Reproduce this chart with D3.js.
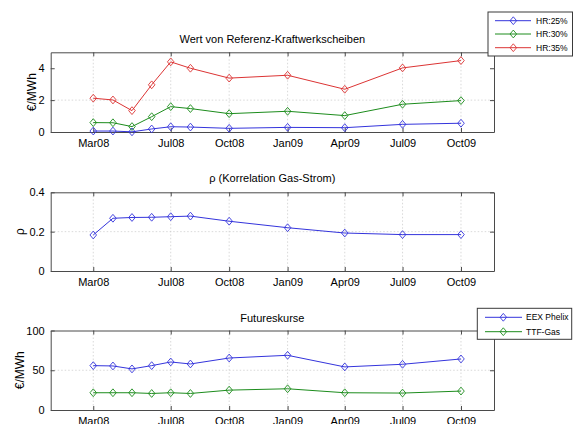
<!DOCTYPE html>
<html><head><meta charset="utf-8">
<script src="https://cdn.jsdelivr.net/npm/d3@7"></script>
<style>
body{margin:0;background:#fff;}
svg{display:block;font-family:"Liberation Sans",Arial,sans-serif;}
</style></head>
<body><svg id="c" width="573" height="424"></svg>
<script>
// ---- data ----
const dates = ["2008-03-01","2008-04-01","2008-05-01","2008-06-01","2008-07-01","2008-08-01","2008-10-01","2009-01-01","2009-04-01","2009-07-01","2009-10-01"];
const xTickDates = ["2008-03-01","2008-07-01","2008-10-01","2009-01-01","2009-04-01","2009-07-01","2009-10-01"];
const hr25 = [0.06,0.06,0.01,0.19,0.33,0.31,0.23,0.29,0.27,0.48,0.55];
const hr30 = [0.59,0.58,0.34,0.96,1.59,1.47,1.15,1.30,1.03,1.74,1.97];
const hr35 = [2.12,2.01,1.34,2.96,4.40,4.00,3.38,3.56,2.68,4.02,4.48];
const rho = [0.183,0.268,0.272,0.273,0.276,0.279,0.253,0.220,0.193,0.185,0.185];
const eex = [55.8,55.4,51.7,55.8,60.4,57.9,65.4,68.8,54.2,57.5,64.2];
const ttf = [21.7,21.7,21.7,20.8,21.7,20.8,25.0,26.7,21.7,21.3,23.8];
const yTicks1 = [0,2,4], yTicks2 = [0,0.2,0.4], yTicks3 = [0,50,100];
const legend1 = ["HR:25%","HR:30%","HR:35%"];
const legend2 = ["EEX Phelix","TTF-Gas"];
const titles = ["Wert von Referenz-Kraftwerkscheiben","\u03c1 (Korrelation Gas-Strom)","Futureskurse"];
const ylabels = ["\u20ac/MWh","\u03c1","\u20ac/MWh"];

// ---- style ----
const BLUE="#3434dc", GREEN="#1c8c1c", RED="#dc3434";
const svg = d3.select("#c");
const parse = d3.utcParse("%Y-%m-%d");
const xd = dates.map(parse);
const x = d3.scaleUtc().domain([Date.UTC(2007,11,25), Date.UTC(2009,10,22)]).range([50.7,494]);
const fmt = d3.utcFormat("%b%y");

function diamond(g, pts, color){
  g.selectAll(null).data(pts).join("path")
    .attr("d", d=>`M${d[0]},${d[1]-3.9}L${d[0]+3.3},${d[1]}L${d[0]},${d[1]+3.9}L${d[0]-3.3},${d[1]}Z`)
    .attr("fill","none").attr("stroke",color).attr("stroke-width",0.9);
}

function panel(cfg){
  const y = d3.scaleLinear().domain(cfg.domain).range([cfg.bottom,cfg.top]);
  const g = svg.append("g");
  const [x0,x1] = x.range();
  // grid
  g.selectAll(null).data(xTickDates.map(parse)).join("line")
    .attr("x1",d=>x(d)).attr("x2",d=>x(d)).attr("y1",cfg.top).attr("y2",cfg.bottom)
    .attr("stroke","#c8c8c8").attr("stroke-width",0.7).attr("stroke-dasharray","1.5,2");
  g.selectAll(null).data(cfg.ticks.slice(1,-1)).join("line")
    .attr("x1",x0).attr("x2",x1).attr("y1",d=>y(d)).attr("y2",d=>y(d))
    .attr("stroke","#c8c8c8").attr("stroke-width",0.7).attr("stroke-dasharray","1.5,2");
  // axes via d3 axis (inward ticks)
  const ax = d3.axisBottom(x).tickValues(xTickDates.map(parse)).tickFormat(fmt).tickSizeInner(-4).tickSizeOuter(0).tickPadding(7);
  const gx = g.append("g").attr("transform",`translate(0,${cfg.bottom})`).call(ax);
  const axT = d3.axisTop(x).tickValues(xTickDates.map(parse)).tickFormat("").tickSizeInner(-4).tickSizeOuter(0);
  const gxt = g.append("g").attr("transform",`translate(0,${cfg.top})`).call(axT);
  const ay = d3.axisLeft(y).tickValues(cfg.ticks).tickFormat(d3.format(cfg.fmt)).tickSizeInner(-4).tickSizeOuter(0).tickPadding(6);
  const gy = g.append("g").attr("transform",`translate(${x0},0)`).call(ay);
  const ayR = d3.axisRight(y).tickValues(cfg.ticks).tickFormat("").tickSizeInner(-4).tickSizeOuter(0);
  const gyr = g.append("g").attr("transform",`translate(${x1},0)`).call(ayR);
  [gx,gxt,gy,gyr].forEach(a=>{
    a.select(".domain").attr("stroke","#4a4a4a").attr("stroke-width",1);
    a.selectAll(".tick line").attr("stroke","#4a4a4a");
    a.selectAll("text").attr("fill","#000").style("font-size","11px").style("font-family","'Liberation Sans',Arial,sans-serif");
  });
  gx.selectAll("text").attr("dy","0.71em");
  // title
  g.append("text").attr("x",(x0+x1)/2).attr("y",cfg.titleY).attr("text-anchor","middle")
    .style("font-size","11px").text(cfg.title);
  // ylabel
  g.append("text").attr("transform",`translate(${cfg.ylabX},${(cfg.top+cfg.bottom)/2}) rotate(-90)`)
    .attr("text-anchor","middle").style("font-size","12px").text(cfg.ylabel);
  // series
  const line = d3.line().x(d=>d[0]).y(d=>d[1]);
  cfg.series.forEach(s=>{
    const pts = xd.map((d,i)=>[x(d), y(s.v[i])]);
    g.append("path").attr("d",line(pts)).attr("fill","none").attr("stroke",s.c).attr("stroke-width",1);
    diamond(g.append("g"), pts, s.c);
  });
}

panel({domain:[0,5],ticks:yTicks1,fmt:"d",top:52.3,bottom:132,titleY:43,title:titles[0],ylabel:ylabels[0],ylabX:36,
  series:[{v:hr25,c:BLUE},{v:hr30,c:GREEN},{v:hr35,c:RED}]});
panel({domain:[0,0.4],ticks:yTicks2,fmt:"",top:192.3,bottom:271,titleY:182,title:titles[1],ylabel:ylabels[1],ylabX:23.5,
  series:[{v:rho,c:BLUE}]});
panel({domain:[0,100],ticks:yTicks3,fmt:"d",top:330.5,bottom:410,titleY:322,title:titles[2],ylabel:ylabels[2],ylabX:23.5,
  series:[{v:eex,c:BLUE},{v:ttf,c:GREEN}]});

function legend(cfg){
  const g = svg.append("g");
  g.append("rect").attr("x",cfg.x0).attr("y",cfg.y0).attr("width",cfg.x1-cfg.x0).attr("height",cfg.y1-cfg.y0)
    .attr("fill","#fff").attr("stroke","#3a3a3a").attr("stroke-width",1);
  cfg.labels.forEach((lab,i)=>{
    const yy = cfg.rows[i];
    g.append("line").attr("x1",cfg.l0).attr("x2",cfg.l1).attr("y1",yy).attr("y2",yy).attr("stroke",cfg.colors[i]).attr("stroke-width",1);
    diamond(g.append("g"), [[cfg.m,yy]], cfg.colors[i]);
    g.append("text").attr("x",cfg.tx).attr("y",yy).attr("dy","0.35em").style("font-size","8.5px").text(lab);
  });
}
legend({x0:488,x1:572.5,y0:12,y1:56,rows:[20.7,34,47.7],l0:495,l1:531,m:513.3,tx:536,labels:legend1,colors:[BLUE,GREEN,RED]});
legend({x0:477.3,x1:571.7,y0:308.3,y1:339.3,rows:[317.3,331.7],l0:485,l1:522,m:503.3,tx:526,labels:legend2,colors:[BLUE,GREEN]});
</script></body></html>
